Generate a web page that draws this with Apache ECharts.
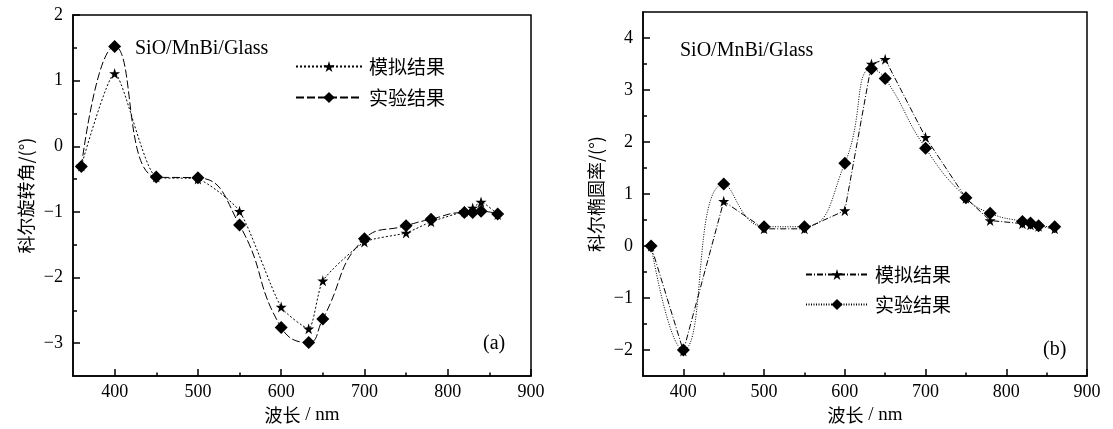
<!DOCTYPE html>
<html><head><meta charset="utf-8">
<script src="https://cdn.jsdelivr.net/npm/echarts@6/dist/echarts.min.js"></script>
<style>html,body{margin:0;padding:0;background:#fff}#c{width:1113px;height:429px}</style>
</head><body><div id="c"></div>
<script>
// ---- data ----
const wavelengths = [360, 400, 450, 500, 550, 600, 633, 650, 700, 750, 780, 820, 830, 840, 860];
const rotSim = [-0.30, 1.11, -0.47, -0.50, -0.99, -2.45, -2.78, -2.05, -1.46, -1.32, -1.15, -0.99, -0.94, -0.85, -1.04];
const rotExp = [-0.31, 1.52, -0.47, -0.48, -1.20, -2.76, -2.99, -2.63, -1.41, -1.21, -1.11, -1.01, -1.01, -0.99, -1.03];
const ellSim = [0.00, -2.02, 0.86, 0.33, 0.33, 0.68, 3.50, 3.59, 2.09, 0.92, 0.49, 0.43, 0.41, 0.38, 0.33];
const ellExp = [0.00, -2.00, 1.19, 0.37, 0.37, 1.59, 3.41, 3.22, 1.88, 0.93, 0.63, 0.47, 0.44, 0.39, 0.37];
const xMajorTicks = [400, 500, 600, 700, 800, 900];
const xMinorTicks = [450, 550, 650, 750, 850];
const rotMajorTicks = [-3, -2, -1, 0, 1, 2];
const rotMinorTicks = [-2.5, -1.5, -0.5, 0.5, 1.5];
const ellMajorTicks = [-2, -1, 0, 1, 2, 3, 4];
const ellMinorTicks = [-1.5, -0.5, 0.5, 1.5, 2.5, 3.5];
const simName = '模拟结果', expName = '实验结果';
const sampleLabel = 'SiO/MnBi/Glass';
const xTitleCJK = '波长', xTitleUnit = ' / nm';
const rotTitle = '科尔旋转角/(°)';
const ellTitle = '科尔椭圆率/(°)';

// ---- styles ----
const SERIF = 'Liberation Serif';
const CJK = 'Noto Sans CJK SC';
const STAR = 'path://M50,0 L61,35 L98,35 L68,57 L79,91 L50,70 L21,91 L32,57 L2,35 L39,35 Z';
const fmt = v => String(v).replace('-', '\u2212');

function xAxes(g) {
  return [
    { type: 'value', gridIndex: g, min: 350, max: 900, position: 'bottom',
      name: '{c|' + xTitleCJK + '}{s|' + xTitleUnit + '}', nameLocation: 'middle', nameGap: 28,
      nameTextStyle: { color: '#000', rich: {
        c: { fontFamily: CJK, fontSize: 18, color: '#000' },
        s: { fontFamily: SERIF, fontSize: 19, color: '#000' } } },
      axisLine: { show: true, onZero: false, lineStyle: { color: '#000', width: 1.5 } },
      axisTick: { show: true, inside: true, length: 7, customValues: xMajorTicks, lineStyle: { color: '#000', width: 1.5 } },
      axisLabel: { customValues: xMajorTicks, fontFamily: SERIF, fontSize: 18, color: '#000', margin: 7 },
      splitLine: { show: false } },
    { type: 'value', gridIndex: g, min: 350, max: 900, position: 'bottom',
      axisLine: { show: false, onZero: false },
      axisTick: { show: true, inside: true, length: 3.5, customValues: xMinorTicks, lineStyle: { color: '#000', width: 1.5 } },
      axisLabel: { show: false }, splitLine: { show: false } }
  ];
}
function yAxes(g, min, max, major, minor, title) {
  return [
    { type: 'value', gridIndex: g, min, max, position: 'left',
      name: title, nameLocation: 'middle', nameGap: 38, nameRotate: 90,
      nameTextStyle: { fontFamily: CJK, fontSize: 18, color: '#000' },
      axisLine: { show: true, onZero: false, lineStyle: { color: '#000', width: 1.5 } },
      axisTick: { show: true, inside: true, length: 7, customValues: major, lineStyle: { color: '#000', width: 1.5 } },
      axisLabel: { customValues: major, fontFamily: SERIF, fontSize: 18, color: '#000', margin: 10, formatter: fmt },
      splitLine: { show: false } },
    { type: 'value', gridIndex: g, min, max, position: 'left',
      axisLine: { show: false, onZero: false },
      axisTick: { show: true, inside: true, length: 4, customValues: minor, lineStyle: { color: '#000', width: 1.5 } },
      axisLabel: { show: false }, splitLine: { show: false } }
  ];
}
function mk(name, xs, ys, xi, yi, symbol, size, dash, smooth, z) {
  return { type: 'line', name, xAxisIndex: xi, yAxisIndex: yi,
    data: xs.map((x, i) => [x, ys[i]]),
    symbol, symbolSize: size, smooth, z,
    itemStyle: { color: '#000', borderWidth: 0 },
    lineStyle: { color: '#000', width: 1, type: dash },
    emphasis: { disabled: true } };
}
const textEl = (x, y, t, fam, size) => ({ type: 'text', left: x, top: y,
  style: { text: t, fontFamily: fam, fontSize: size, fill: '#000' } });

const gridBase = { show: true, borderColor: '#000', borderWidth: 1.5, backgroundColor: 'transparent',
  containLabel: false, outerBoundsMode: 'none' };

const chart = echarts.init(document.getElementById('c'), null, { renderer: 'canvas' });
chart.setOption({
  animation: false,
  backgroundColor: '#fff',
  grid: [
    Object.assign({ left: 73, top: 15, width: 458, height: 361 }, gridBase),
    Object.assign({ left: 643, top: 12, width: 444, height: 364 }, gridBase)
  ],
  xAxis: [...xAxes(0), ...xAxes(1)],
  yAxis: [...yAxes(0, -3.5, 2, rotMajorTicks, rotMinorTicks, rotTitle),
          ...yAxes(1, -2.5, 4.5, ellMajorTicks, ellMinorTicks, ellTitle)],
  legend: [
    { left: 290, top: 52, orient: 'vertical', itemWidth: 66, itemHeight: 14, itemGap: 12,
      selectedMode: false, data: [simName, expName],
      textStyle: { fontFamily: CJK, fontSize: 19, color: '#000', padding: [0, 0, 0, 2] } },
    { left: 800, top: 260, orient: 'vertical', itemWidth: 62, itemHeight: 14, itemGap: 11,
      selectedMode: false, data: ['b' + simName, 'b' + expName],
      formatter: n => n.replace(/^b/, ''),
      textStyle: { fontFamily: CJK, fontSize: 19, color: '#000', padding: [0, 0, 0, 2] } }
  ],
  graphic: [
    textEl(135, 39, sampleLabel, SERIF, 20),
    textEl(680, 41, sampleLabel, SERIF, 20),
    textEl(483, 334, '(a)', SERIF, 20),
    textEl(1043, 340, '(b)', SERIF, 20)
  ],
  series: [
    mk(simName, wavelengths, rotSim, 0, 0, STAR, 11, [2, 2], 0.2, 2),
    mk(expName, wavelengths, rotExp, 0, 0, 'diamond', 13, [8, 3], 0.5, 3),
    mk('b' + simName, wavelengths, ellSim, 2, 2, STAR, 11, [6, 2, 1, 2], false, 2),
    mk('b' + expName, wavelengths, ellExp, 2, 2, 'diamond', 13, [1, 1.5], 0.5, 3)
  ]
});
</script>
</body></html>
